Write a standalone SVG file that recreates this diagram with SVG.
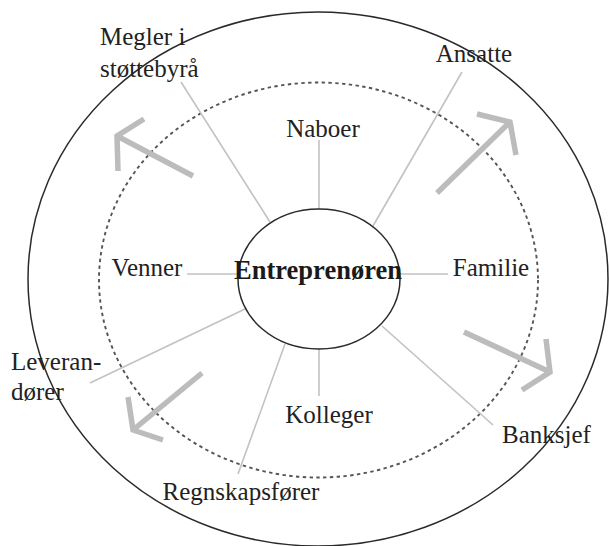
<svg xmlns="http://www.w3.org/2000/svg" width="609" height="546" viewBox="0 0 609 546">
  <style>
    .ring { fill: none; stroke: #2a2a2a; stroke-width: 1.5; }
    .dash { fill: none; stroke: #555; stroke-width: 1.9; stroke-dasharray: 3.4 3.4; }
    .link { fill: none; stroke: #c2c2c2; stroke-width: 1.6; }
    .flow { fill: none; stroke: #bcbcbc; stroke-width: 5.5; stroke-linecap: butt; stroke-linejoin: miter; }
    .lbl { font-family: "Liberation Serif", "Times New Roman", serif; font-size: 25px; fill: #222; }
    .mid { text-anchor: middle; }
    .core { font-family: "Liberation Serif", "Times New Roman", serif; font-size: 26.5px; font-weight: bold; fill: #1a1a1a; text-anchor: middle; }
  </style>
  <rect width="609" height="546" fill="#ffffff"/>

  <!-- network rings -->
  <g id="rings">
    <ellipse class="ring" cx="318" cy="279" rx="290" ry="267"/>
    <ellipse class="dash" cx="318.5" cy="280" rx="219.5" ry="197.5"/>
  </g>

  <!-- ties from the entrepreneur to each contact -->
  <g id="connectors">
    <line class="link" x1="319" y1="140" x2="319" y2="209"/>
    <line class="link" x1="319" y1="349" x2="319" y2="396"/>
    <line class="link" x1="187" y1="274" x2="238" y2="274"/>
    <line class="link" x1="400" y1="274" x2="448" y2="274"/>
    <line class="link" x1="181" y1="82" x2="270" y2="222"/>
    <line class="link" x1="462" y1="72" x2="373" y2="226"/>
    <line class="link" x1="90" y1="383" x2="245" y2="309"/>
    <line class="link" x1="238" y1="474" x2="285" y2="344"/>
    <line class="link" x1="382" y1="326" x2="493" y2="425"/>
  </g>

  <!-- outward growth arrows -->
  <g id="arrows">
    <path class="flow" d="M193,176 L117,136 M144,119 L117,136 L118,171"/>
    <path class="flow" d="M437,193 L510,122 M477,114 L510,122 L516,155"/>
    <path class="flow" d="M464,332 L550,372 M546,339 L550,372 L522,390"/>
    <path class="flow" d="M202,373 L133,430 M128,397 L133,430 L163,440"/>
  </g>

  <g id="entreprenoren">
    <ellipse class="ring" cx="319" cy="279" rx="81" ry="70" fill="none"/>
    <text class="core" x="318" y="279">Entreprenøren</text>
  </g>
  <g id="naboer"><text class="lbl mid" x="323" y="137">Naboer</text></g>
  <g id="venner"><text class="lbl mid" x="147" y="276">Venner</text></g>
  <g id="familie"><text class="lbl mid" x="491" y="276">Familie</text></g>
  <g id="kolleger"><text class="lbl mid" x="329" y="423">Kolleger</text></g>
  <g id="megler">
    <text class="lbl" x="100" y="45">Megler i</text>
    <text class="lbl" x="100" y="77">støttebyrå</text>
  </g>
  <g id="ansatte"><text class="lbl mid" x="474" y="62">Ansatte</text></g>
  <g id="leverandorer">
    <text class="lbl" x="11" y="370">Leveran-</text>
    <text class="lbl" x="11" y="400">dører</text>
  </g>
  <g id="regnskapsforer"><text class="lbl mid" x="241" y="500">Regnskapsfører</text></g>
  <g id="banksjef"><text class="lbl" x="502" y="443">Banksjef</text></g>
</svg>
